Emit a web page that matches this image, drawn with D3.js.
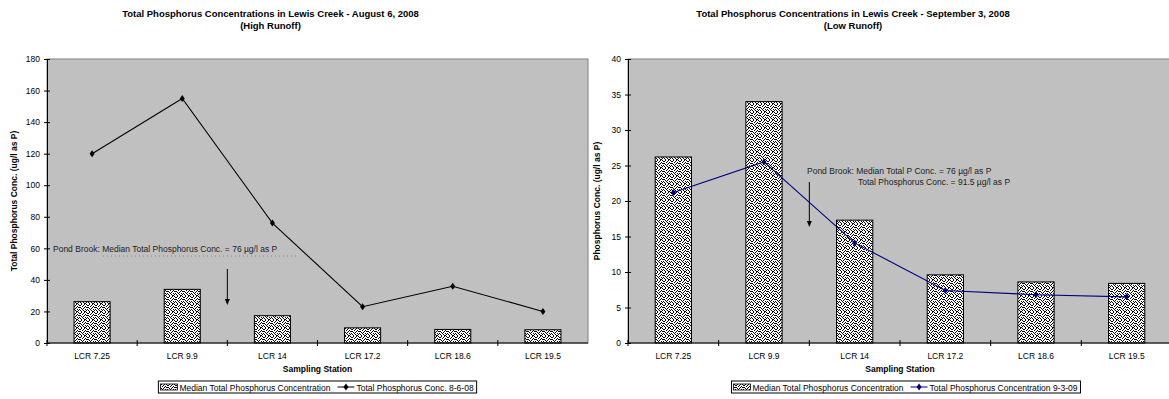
<!DOCTYPE html>
<html>
<head>
<meta charset="utf-8">
<script src="https://cdn.jsdelivr.net/npm/d3@7"></script>
<style>
  html, body { margin: 0; padding: 0; background: #fff; }
  svg { display: block; font-family: "Liberation Sans", Arial, sans-serif; }
</style>
</head>
<body>
<svg id="chart" width="1169" height="399"></svg>
<script>
// Sampling stations along Lewis Creek
const stations = ["LCR 7.25", "LCR 9.9", "LCR 14", "LCR 17.2", "LCR 18.6", "LCR 19.5"];

// Median total phosphorus concentration (µg/l as P) per station
const medianTP = [26.2, 34.0, 17.3, 9.6, 8.6, 8.4];

// Event sample on 8-6-08 (high runoff)
const augustTP = [120, 155, 76, 23, 36, 20];

// Event sample on 9-3-09 (low runoff)
const septemberTP = [21.2, 25.5, 14.1, 7.4, 6.8, 6.5];

// Y-axis tick values
const augustTicks = [0, 20, 40, 60, 80, 100, 120, 140, 160, 180];
const septemberTicks = [0, 5, 10, 15, 20, 25, 30, 35, 40];

const svg = d3.select("#chart");

// Speckled fill used by the median bars
const defs = svg.append("defs");
const pat = defs.append("pattern")
  .attr("id", "speckle")
  .attr("patternUnits", "userSpaceOnUse")
  .attr("width", 8).attr("height", 8);
pat.append("rect").attr("width", 8).attr("height", 8).attr("fill", "#fff");
const speckRows = [
  [1, 4, 6],
  [0, 3, 7],
  [2, 5],
  [0, 4, 6, 7],
  [1, 3],
  [2, 5, 7],
  [0, 3, 6],
  [1, 4, 5]
];
const dots = speckRows.flatMap((row, r) => row.map(c => [c, r]));
pat.selectAll("rect.d").data(dots).enter().append("rect")
  .attr("class", "d")
  .attr("x", d => d[0]).attr("y", d => d[1])
  .attr("width", 1).attr("height", 1).attr("fill", "#000");

function drawChart(cfg) {
  const g = svg.append("g");
  const x = d3.scaleBand().domain(stations).range([cfg.x0, cfg.x1]);
  const y = d3.scaleLinear().domain([0, cfg.yMax]).range([cfg.y1, cfg.y0]);
  const cxAll = (cfg.x0 + cfg.x1) / 2 - cfg.titleShift;

  // plot area
  g.append("rect")
    .attr("x", cfg.x0).attr("y", cfg.y0)
    .attr("width", cfg.x1 - cfg.x0).attr("height", cfg.y1 - cfg.y0)
    .attr("fill", "#c0c0c0").attr("stroke", "#808080").attr("stroke-width", 1);

  // titles
  g.append("text").attr("x", cxAll).attr("y", 17)
    .attr("text-anchor", "middle").attr("font-size", 9.5).attr("font-weight", "bold")
    .text(cfg.title);
  g.append("text").attr("x", cxAll).attr("y", 29)
    .attr("text-anchor", "middle").attr("font-size", 9.5).attr("font-weight", "bold")
    .text(cfg.subtitle);

  // bars
  const bw = x.bandwidth() * 0.4;
  g.selectAll("rect.bar").data(medianTP).enter().append("rect")
    .attr("class", "bar")
    .attr("x", (d, i) => x(stations[i]) + (x.bandwidth() - bw) / 2)
    .attr("y", d => y(d))
    .attr("width", bw)
    .attr("height", d => y(0) - y(d))
    .attr("fill", "url(#speckle)")
    .attr("stroke", "#000").attr("stroke-width", 1);

  // line series
  const cx = i => x(stations[i]) + x.bandwidth() / 2;
  const line = d3.line().x((d, i) => cx(i)).y(d => y(d));
  g.append("path").datum(cfg.series)
    .attr("d", line).attr("fill", "none")
    .attr("stroke", cfg.color).attr("stroke-width", 1.1);
  const diamond = d3.symbol().type(d3.symbolDiamond).size(14);
  g.selectAll("path.pt").data(cfg.series).enter().append("path")
    .attr("class", "pt")
    .attr("d", diamond)
    .attr("transform", (d, i) => `translate(${cx(i)},${y(d)}) scale(1.25,1)`)
    .attr("fill", cfg.color);

  // y axis
  const yAxis = d3.axisLeft(y).tickValues(cfg.ticks).tickSizeInner(3).tickSizeOuter(0).tickPadding(4);
  const ya = g.append("g").attr("transform", `translate(${cfg.x0},0)`).call(yAxis);
  ya.select(".domain").attr("stroke", "#000");
  ya.selectAll(".tick line").attr("x2", -3).attr("x1", 3).attr("stroke", "#000");
  ya.selectAll(".tick text").attr("font-size", 8.5).attr("font-family", "Liberation Sans, Arial, sans-serif").attr("fill", "#000").attr("x", -7);

  // x axis: category labels, cross ticks on band boundaries
  const xAxis = d3.axisBottom(x).tickSize(0).tickPadding(10);
  const xa = g.append("g").attr("transform", `translate(0,${cfg.y1})`).call(xAxis);
  xa.select(".domain").attr("stroke", "#000").attr("d", `M${cfg.x0},0H${cfg.x1}`);
  xa.selectAll(".tick text").attr("font-size", 8.5).attr("font-family", "Liberation Sans, Arial, sans-serif").attr("fill", "#000");
  const bounds = stations.map(s => x(s));
  xa.selectAll("line.bound").data(bounds).enter().append("line")
    .attr("class", "bound")
    .attr("x1", d => d).attr("x2", d => d)
    .attr("y1", -3).attr("y2", 3).attr("stroke", "#000");

  // axis titles
  g.append("text")
    .attr("x", (cfg.x0 + cfg.x1) / 2).attr("y", 372)
    .attr("text-anchor", "middle").attr("font-size", 8.5).attr("font-weight", "bold")
    .text("Sampling Station");
  g.append("text")
    .attr("transform", `translate(${cfg.yLabelX},${(cfg.y0 + cfg.y1) / 2}) rotate(-90)`)
    .attr("text-anchor", "middle").attr("font-size", 8.5).attr("font-weight", "bold")
    .text(cfg.yLabel);

  // annotations
  cfg.annotate(g, x, y);

  // legend
  const fs = 8.5;
  const lg = g.append("g");
  const t1 = lg.append("text").attr("font-size", fs).attr("y", 390.5).text("Median Total Phosphorus Concentration");
  const t2 = lg.append("text").attr("font-size", fs).attr("y", 390.5).text(cfg.seriesName);
  const w1 = t1.node().getComputedTextLength();
  const w2 = t2.node().getComputedTextLength();
  const sw = 17, gap = 7, pad = 2;
  const total = pad + sw + 2 + w1 + gap + sw + 2 + w2 + pad + 1;
  const lx = (cfg.x0 + cfg.x1) / 2 - cfg.legendShift - total / 2;
  lg.insert("rect", "text").attr("x", lx).attr("y", 381).attr("width", total).attr("height", 12)
    .attr("fill", "#fff").attr("stroke", "#000").attr("stroke-width", 1);
  lg.append("rect").attr("x", lx + pad).attr("y", 384).attr("width", sw).attr("height", 6)
    .attr("fill", "url(#speckle)").attr("stroke", "#000").attr("stroke-width", 0.8);
  t1.attr("x", lx + pad + sw + 2);
  const lx2 = lx + pad + sw + 2 + w1 + gap;
  lg.append("line").attr("x1", lx2).attr("x2", lx2 + sw).attr("y1", 387).attr("y2", 387)
    .attr("stroke", cfg.color).attr("stroke-width", 1);
  lg.append("path").attr("d", diamond).attr("transform", `translate(${lx2 + sw / 2},387) scale(1.25,1)`).attr("fill", cfg.color);
  t2.attr("x", lx2 + sw + 2);
}

drawChart({
  x0: 47, x1: 588, y0: 59, y1: 343,
  yMax: 180, ticks: augustTicks,
  series: augustTP, color: "#000",
  title: "Total Phosphorus Concentrations in Lewis Creek - August 6, 2008",
  subtitle: "(High Runoff)",
  titleShift: 47, legendShift: 0,
  yLabel: "Total Phosphorus Conc. (ug/l as P)", yLabelX: 17,
  seriesName: "Total Phosphorus Conc. 8-6-08",
  annotate: (g, x, y) => {
    g.append("text").attr("x", 53).attr("y", 252).attr("font-size", 8.5).attr("fill", "#222")
      .text("Pond Brook: Median Total Phosphorus Conc. = 76 µg/l as P");
    g.append("line").attr("x1", 103).attr("x2", 297).attr("y1", 256).attr("y2", 256)
      .attr("stroke", "#888").attr("stroke-width", 1).attr("stroke-dasharray", "1,3");
    const ax = x(stations[2]);
    g.append("line").attr("x1", ax).attr("x2", ax).attr("y1", 269).attr("y2", 300)
      .attr("stroke", "#000").attr("stroke-width", 1);
    g.append("path").attr("d", `M${ax - 2.5},299L${ax + 2.5},299L${ax},305Z`).attr("fill", "#000");
  }
});

drawChart({
  x0: 628, x1: 1172, y0: 59, y1: 343,
  yMax: 40, ticks: septemberTicks,
  series: septemberTP, color: "#000080",
  title: "Total Phosphorus Concentrations in Lewis Creek - September 3, 2008",
  subtitle: "(Low Runoff)",
  titleShift: 47, legendShift: -6,
  yLabel: "Phosphorus Conc. (ug/l as P)", yLabelX: 600,
  seriesName: "Total Phosphorus Concentration 9-3-09",
  annotate: (g, x, y) => {
    g.append("text").attr("x", 807).attr("y", 174).attr("font-size", 8.5).attr("fill", "#222")
      .text("Pond Brook: Median Total P Conc. = 76 µg/l as P");
    g.append("text").attr("x", 858).attr("y", 185).attr("font-size", 8.5).attr("fill", "#222")
      .text("Total Phosphorus Conc. = 91.5 µg/l as P");
    const ax = x(stations[2]);
    g.append("line").attr("x1", ax).attr("x2", ax).attr("y1", 182).attr("y2", 222)
      .attr("stroke", "#000").attr("stroke-width", 1);
    g.append("path").attr("d", `M${ax - 2.5},221L${ax + 2.5},221L${ax},227Z`).attr("fill", "#000");
  }
});
</script>
</body>
</html>
